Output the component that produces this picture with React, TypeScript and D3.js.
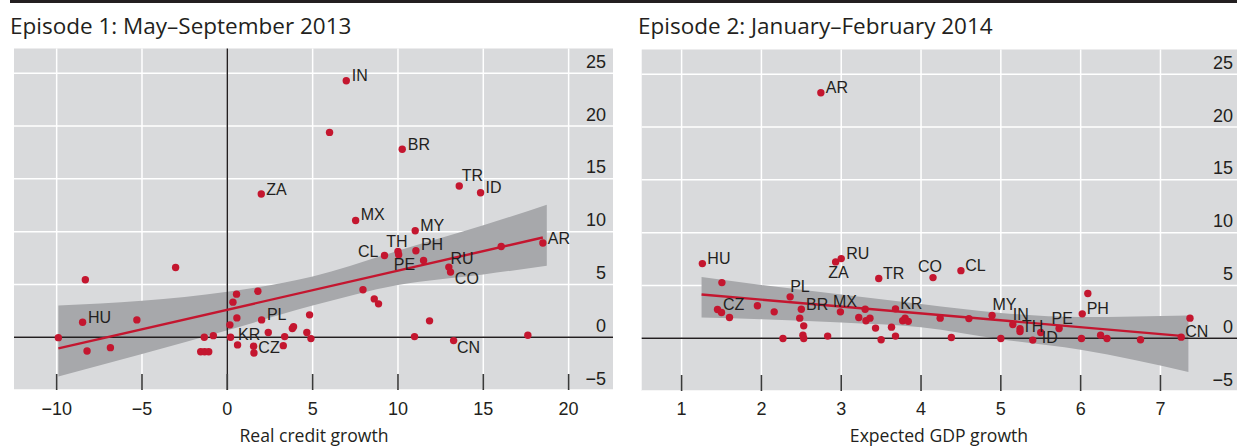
import React from 'react';
import * as d3 from 'd3';

const W = 1237;
const H = 446;

// ---------- axes ----------
const yTicks = [-5, 0, 5, 10, 15, 20, 25];
const ep1XTicks = [-10, -5, 0, 5, 10, 15, 20];
const ep2XTicks = [1, 2, 3, 4, 5, 6, 7];

// ---------- Episode 1: real credit growth vs change ----------
const ep1Codes = ['IN', '', 'BR', 'TR', 'ID', 'ZA', 'MX', 'MY', 'AR', '', 'CL', 'TH', '', 'PH', 'PE', 'RU', 'CO', '', '', '', '', '', '', '', '', 'CN', '', '', '', 'HU', '', '', '', '', '', '', '', '', '', '', '', '', '', '', 'KR', '', 'PL', '', '', 'CZ', '', '', '', ''];
const ep1Credit = [6.97, 5.99, 10.25, 13.59, 14.84, 1.99, 7.52, 11.01, 18.49, 16.05, 9.21, 10.0, 10.04, 11.05, 11.5, 12.98, 13.08, 7.95, 8.61, 8.86, 4.82, 11.85, 4.66, 4.9, 10.97, 13.26, 17.61, -8.32, -3.03, -8.48, -5.3, -9.9, -8.22, -6.85, -1.35, -0.82, -1.56, -1.33, -1.09, 0.54, 0.33, 1.79, 0.56, 0.15, 0.19, 0.6, 2.01, 2.4, 1.54, 1.56, 3.36, 3.28, 3.81, 3.88];
const ep1Change = [24.3, 19.4, 17.8, 14.33, 13.69, 13.57, 11.06, 10.09, 8.92, 8.6, 7.74, 8.12, 7.82, 8.19, 7.27, 6.64, 6.17, 4.49, 3.63, 3.16, 2.12, 1.55, 0.44, -0.13, 0.06, -0.32, 0.19, 5.44, 6.6, 1.42, 1.64, -0.04, -1.3, -0.99, 0.0, 0.15, -1.37, -1.37, -1.37, 4.08, 3.32, 4.36, 1.83, 1.17, 0.0, -0.73, 1.64, 0.44, -0.85, -1.49, 0.06, -0.8, 0.82, 1.0];
const ep1FitX = [-9.9, 18.49];
const ep1FitY = [-1.06, 9.45];
const ep1BandX = [-9.9, -5, 0, 5, 10, 15, 18.72];
const ep1BandLo = [-3.72, -1.6, 0.65, 3.0, 4.95, 5.95, 6.76];
const ep1BandHi = [3.0, 3.45, 4.3, 5.75, 8.2, 10.6, 12.55];

// ---------- Episode 2: expected GDP growth vs change ----------
const ep2Codes = ['AR', 'HU', '', 'ZA', 'RU', 'TR', 'CO', 'CL', 'PL', 'CZ', '', '', '', '', 'BR', '', '', '', '', '', '', 'MX', '', '', '', '', '', '', '', '', 'KR', '', '', '', '', '', '', 'MY', '', 'IN', 'TH', '', 'ID', '', 'PE', 'PH', '', '', '', '', '', 'CN', ''];
const ep2Gdp = [2.745, 1.26, 1.505, 2.93, 3.0, 3.47, 4.15, 4.5, 2.36, 1.45, 1.5, 1.6, 1.95, 2.16, 2.5, 2.48, 2.53, 2.52, 2.53, 2.27, 2.83, 2.99, 3.3, 3.22, 3.31, 3.36, 3.43, 3.5, 3.63, 3.68, 3.68, 3.77, 3.8, 3.84, 4.24, 4.6, 4.38, 4.89, 5.0, 5.15, 5.24, 5.24, 5.4, 5.5, 5.73, 6.02, 6.09, 6.01, 6.25, 6.33, 6.75, 7.26, 7.37];
const ep2Change = [23.25, 7.07, 5.27, 7.23, 7.54, 5.65, 5.74, 6.4, 3.92, 2.72, 2.43, 1.96, 3.07, 2.5, 2.75, 1.9, 1.17, 0.29, -0.03, -0.03, 0.2, 2.5, 2.75, 1.96, 1.65, 1.9, 0.96, -0.15, 1.05, 0.2, 2.78, 1.65, 1.9, 1.6, 1.9, 1.86, 0.07, 2.15, -0.03, 1.3, 0.89, 0.63, -0.18, 0.54, 0.92, 2.31, 4.23, -0.03, 0.29, -0.03, -0.15, 0.1, 1.9];
const ep2FitX = [1.25, 7.26];
const ep2FitY = [4.14, 0.22];
const ep2BandX = [1.25, 2, 3, 4, 5, 6, 7.35];
const ep2BandLo = [1.97, 1.8, 1.5, 1.05, -0.1, -1.1, -3.2];
const ep2BandHi = [5.8, 5.05, 4.15, 3.25, 2.4, 2.0, 2.15];

// ---------- label placement (pixels relative to dot) ----------
type Place = [number, number, 'start' | 'middle' | 'end'];
const ep1Place: Record<string, Place> = {
  IN: [5.5, 0, 'start'], BR: [5.5, 0.5, 'start'], TR: [2.5, -4.5, 'start'], ID: [5, 0, 'start'],
  ZA: [5, 1, 'start'], MX: [5, 0, 'start'], MY: [5, 0, 'start'], AR: [5, 0.5, 'start'],
  CL: [-6, 1, 'end'], TH: [-1, -4, 'middle'], PH: [5, -0.7, 'start'], PE: [-29.7, 9.3, 'start'],
  RU: [1.7, -3.2, 'start'], CO: [4.3, 12, 'start'], CN: [3.3, 12, 'start'], HU: [5.3, 1, 'start'],
  PL: [5.3, 0, 'start'], KR: [7.5, 3, 'start'], CZ: [4.4, 0, 'start'],
};
const ep2Place: Record<string, Place> = {
  AR: [5, 0.6, 'start'], HU: [5, 0.3, 'start'], RU: [5, 0.3, 'start'], ZA: [-7.4, 15.7, 'start'],
  TR: [4.3, 0.3, 'start'], CO: [-15, -5.4, 'start'], CL: [4.3, 0, 'start'], PL: [0, -5, 'start'],
  CZ: [5.4, 0.3, 'start'], BR: [4.7, 0.7, 'start'], MX: [-7.4, -4.7, 'start'], KR: [4.7, -0.3, 'start'],
  MY: [0.4, -5.2, 'start'], IN: [0, -4.5, 'start'], TH: [2, 3.4, 'start'], ID: [9, 2.4, 'start'],
  PE: [-7.6, -5, 'start'], PH: [4.4, 0.3, 'start'], CN: [4, 0, 'start'],
};

const BG = '#d9dadc';
const BAND = '#a7a8ab';
const RED = '#c4162f';
const INK = '#231f20';
const SANS = '"Liberation Sans", Arial, sans-serif';
const UI = '"Open Sans", "Noto Sans", sans-serif';

const fmt = (v: number) => (v < 0 ? '\u2212' + Math.abs(v) : String(v));

type PanelProps = {
  left: number; right: number; top: number; bottom: number;
  xDomain: [number, number]; xTicks: number[];
  codes: string[]; xs: number[]; ys: number[];
  fitX: number[]; fitY: number[];
  bandX: number[]; bandLo: number[]; bandHi: number[];
  place: Record<string, Place>;
  vZero: boolean; yLabelX: number;
  title: string; titleX: number; xTitle: string; xTitleX: number;
};

function Panel(p: PanelProps) {
  const xScale = d3.scaleLinear().domain(p.xDomain).range([p.left, p.right]);
  const yScale = d3.scaleLinear().domain([-5, 27.35]).range([p.bottom, p.top]);
  const band = d3
    .area<number>()
    .x((_, i) => xScale(p.bandX[i]))
    .y0((_, i) => yScale(p.bandLo[i]))
    .y1((_, i) => yScale(p.bandHi[i]))
    .curve(d3.curveMonotoneX);
  const fit = d3
    .line<number>()
    .x((_, i) => xScale(p.fitX[i]))
    .y((_, i) => yScale(p.fitY[i]));
  const idx = p.bandX.map((_, i) => i);
  return (
    <g>
      <text x={p.titleX} y={34} fontFamily={UI} fontSize={22.5} fill={INK}>{p.title}</text>
      <rect x={p.left} y={p.top} width={p.right - p.left} height={p.bottom - p.top} fill={BG} />
      {yTicks.map((t) => (
        <line key={'gy' + t} x1={p.left} x2={p.right} y1={yScale(t)} y2={yScale(t)} stroke="#fff" strokeWidth={1.5} />
      ))}
      {p.xTicks.map((t) => (
        <line key={'gx' + t} x1={xScale(t)} x2={xScale(t)} y1={p.top} y2={p.bottom} stroke="#fff" strokeWidth={1.5} />
      ))}
      <path d={band(idx) || ''} fill={BAND} />
      <line x1={p.left} x2={p.right} y1={yScale(0)} y2={yScale(0)} stroke={INK} strokeWidth={1.4} />
      {p.vZero && (
        <line x1={xScale(0)} x2={xScale(0)} y1={p.top} y2={p.bottom} stroke={INK} strokeWidth={1.4} />
      )}
      <path d={fit(p.fitX.map((_, i) => i)) || ''} fill="none" stroke={RED} strokeWidth={2.4} />
      {p.xs.map((x, i) => (
        <circle key={'d' + i} cx={xScale(x)} cy={yScale(p.ys[i])} r={3.7} fill={RED} />
      ))}
      {p.codes.map((c, i) => {
        if (!c) return null;
        const pl = p.place[c] || [5, 0, 'start'];
        return (
          <text key={'l' + i} x={xScale(p.xs[i]) + pl[0]} y={yScale(p.ys[i]) + pl[1]} textAnchor={pl[2]}
            fontFamily={SANS} fontSize={16} fill={INK}>{c}</text>
        );
      })}
      {p.xTicks.map((t) => (
        <line key={'tk' + t} x1={xScale(t)} x2={xScale(t)} y1={p.bottom - 16} y2={p.bottom} stroke="#3a3a3a" strokeWidth={1.6} />
      ))}
      {yTicks.map((t) => (
        <text key={'yl' + t} x={p.yLabelX} y={yScale(t) - 5.5} textAnchor="end" fontFamily={SANS} fontSize={18} fill={INK}>{fmt(t)}</text>
      ))}
      {p.xTicks.map((t) => (
        <text key={'xl' + t} x={xScale(t)} y={414.5} textAnchor="middle" fontFamily={SANS} fontSize={18} fill={INK}>{fmt(t)}</text>
      ))}
      <text x={p.xTitleX} y={441.5} textAnchor="middle" fontFamily={UI} fontSize={17.6} fill={INK}>{p.xTitle}</text>
    </g>
  );
}

export default function App() {
  return (
    <div style={{ position: 'absolute', left: 0, top: 0 }}>
      <svg width={W} height={H} viewBox={`0 0 ${W} ${H}`} style={{ display: 'block', background: '#fff' }}>
        <rect x={10} y={0} width={W - 10} height={3} fill={INK} />
        <Panel
          left={14} right={613} top={48.5} bottom={390}
          xDomain={[-12.5, 22.6]} xTicks={ep1XTicks}
          codes={ep1Codes} xs={ep1Credit} ys={ep1Change}
          fitX={ep1FitX} fitY={ep1FitY}
          bandX={ep1BandX} bandLo={ep1BandLo} bandHi={ep1BandHi}
          place={ep1Place} vZero={true} yLabelX={606}
          title="Episode 1: May–September 2013" titleX={10}
          xTitle="Real credit growth" xTitleX={314}
        />
        <Panel
          left={641.7} right={1237} top={49.5} bottom={391}
          xDomain={[0.5, 7.959]} xTicks={ep2XTicks}
          codes={ep2Codes} xs={ep2Gdp} ys={ep2Change}
          fitX={ep2FitX} fitY={ep2FitY}
          bandX={ep2BandX} bandLo={ep2BandLo} bandHi={ep2BandHi}
          place={ep2Place} vZero={false} yLabelX={1233}
          title="Episode 2: January–February 2014" titleX={638}
          xTitle="Expected GDP growth" xTitleX={939}
        />
      </svg>
    </div>
  );
}
